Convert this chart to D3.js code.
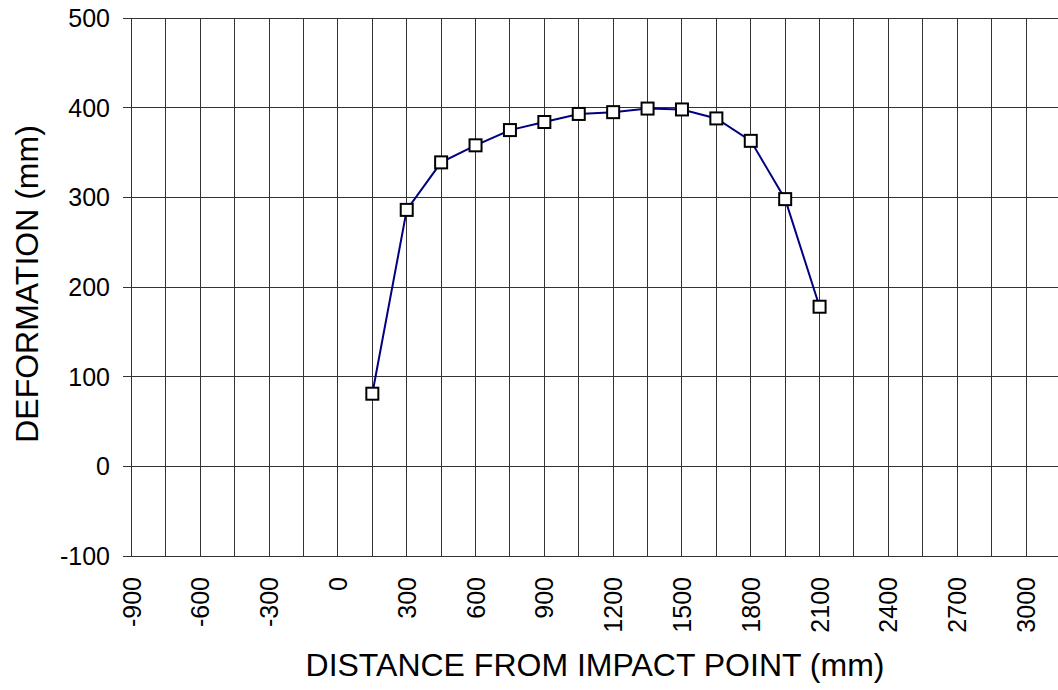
<!DOCTYPE html>
<html>
<head>
<meta charset="utf-8">
<script src="https://cdn.jsdelivr.net/npm/d3@7"></script>
<style>
  body { margin: 0; background: #fff; }
  text { font-family: Arial, "Liberation Sans", sans-serif; fill: #000; }
</style>
</head>
<body>
<div id="chart-area"></div>
<script>
// values
var distance = [150, 300, 450, 600, 750, 900, 1050, 1200, 1350, 1500, 1650, 1800, 1950, 2100]
var deformation = [81, 286, 339, 358, 375, 384, 393, 395, 399, 398, 388, 363, 298, 178]
var xTicks = [-900, -600, -300, 0, 300, 600, 900, 1200, 1500, 1800, 2100, 2400, 2700, 3000]
var yTicks = [-100, 0, 100, 200, 300, 400, 500]

var W = 1058, H = 690
var plotLeft = 131.5, plotTop = 18, plotBottom = 556
var right3000 = 1026

var svg = d3.select('#chart-area')
  .append('svg')
  .attr('width', W)
  .attr('height', H)

var x = d3.scaleLinear().domain([-900, 3000]).range([plotLeft, right3000])
var y = d3.scaleLinear().domain([-100, 500]).range([plotBottom, plotTop])

var grid = svg.append('g')
  .attr('stroke', '#333')
  .attr('stroke-width', 1)
  .attr('shape-rendering', 'crispEdges')

// vertical grid every 150
var vLines = d3.range(-900, 3001, 150)
grid.selectAll('.v').data(vLines).enter()
  .append('line')
  .attr('x1', d => x(d)).attr('x2', d => x(d))
  .attr('y1', plotTop).attr('y2', plotBottom)

// horizontal grid + y tick marks
grid.selectAll('.h').data(yTicks).enter()
  .append('line')
  .attr('x1', plotLeft - 9).attr('x2', W)
  .attr('y1', d => y(d)).attr('y2', d => y(d))

// y tick labels
svg.selectAll('.ylab').data(yTicks).enter()
  .append('text')
  .attr('x', 110)
  .attr('y', d => y(d))
  .attr('dy', '0.36em')
  .attr('text-anchor', 'end')
  .attr('font-size', 25)
  .text(d => d)

// x tick labels, rotated
svg.selectAll('.xlab').data(xTicks).enter()
  .append('text')
  .attr('transform', d => 'translate(' + x(d) + ',577) rotate(-90)')
  .attr('dy', '0.36em')
  .attr('text-anchor', 'end')
  .attr('font-size', 25)
  .text(d => d)

// axis titles
svg.append('text')
  .attr('x', 595)
  .attr('y', 676)
  .attr('text-anchor', 'middle')
  .attr('font-size', 32)
  .text('DISTANCE FROM IMPACT POINT (mm)')

svg.append('text')
  .attr('transform', 'translate(38,284) rotate(-90)')
  .attr('text-anchor', 'middle')
  .attr('font-size', 32)
  .text('DEFORMATION (mm)')

// series
var pts = distance.map((d, i) => ({ x: d, y: deformation[i] }))

svg.append('path')
  .datum(pts)
  .attr('fill', 'none')
  .attr('stroke', '#000080')
  .attr('stroke-width', 2)
  .attr('d', d3.line().x(d => x(d.x)).y(d => y(d.y)))

var s = 12
svg.selectAll('.mk').data(pts).enter()
  .append('rect')
  .attr('x', d => x(d.x) - s / 2)
  .attr('y', d => y(d.y) - s / 2)
  .attr('width', s)
  .attr('height', s)
  .attr('fill', '#fff')
  .attr('stroke', '#000')
  .attr('stroke-width', 2)
</script>
</body>
</html>
